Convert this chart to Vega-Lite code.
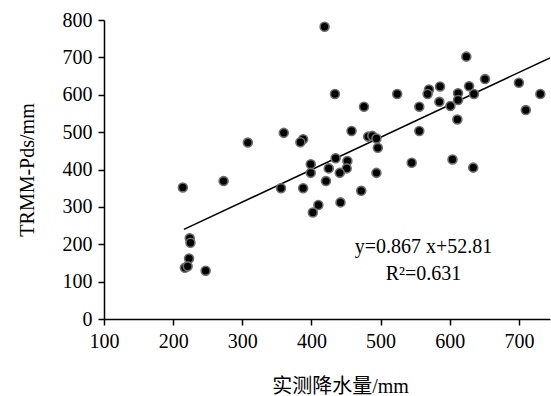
{
  "$schema": "https://vega.github.io/schema/vega-lite/v6.json",
  "width": 446,
  "height": 299,
  "autosize": {"type": "none"},
  "padding": {"left": 104, "top": 20, "right": 1, "bottom": 77},
  "background": "white",
  "config": {
    "view": {"stroke": null},
    "font": "Liberation Serif",
    "axis": {
      "grid": false,
      "domainColor": "black",
      "domainWidth": 1.5,
      "tickColor": "black",
      "tickWidth": 1.5,
      "tickSize": 6,
      "labelFont": "Liberation Serif",
      "labelFontSize": 20,
      "labelColor": "black",
      "titleFont": "Liberation Serif, Noto Sans CJK SC",
      "titleFontSize": 20,
      "titleFontWeight": "normal",
      "titleColor": "black"
    }
  },
  "datasets": {
    "pts": [
      {"obs": 419, "trmm": 782}, {"obs": 434, "trmm": 602}, {"obs": 476, "trmm": 568},
      {"obs": 360, "trmm": 498}, {"obs": 388, "trmm": 481}, {"obs": 384, "trmm": 473},
      {"obs": 308, "trmm": 472}, {"obs": 458, "trmm": 503}, {"obs": 482, "trmm": 488},
      {"obs": 273, "trmm": 369}, {"obs": 214, "trmm": 352}, {"obs": 435, "trmm": 430},
      {"obs": 399, "trmm": 414}, {"obs": 399, "trmm": 391}, {"obs": 425, "trmm": 403},
      {"obs": 452, "trmm": 423}, {"obs": 451, "trmm": 403}, {"obs": 441, "trmm": 391},
      {"obs": 421, "trmm": 369}, {"obs": 494, "trmm": 391}, {"obs": 356, "trmm": 350},
      {"obs": 388, "trmm": 350}, {"obs": 472, "trmm": 343}, {"obs": 410, "trmm": 305},
      {"obs": 402, "trmm": 285}, {"obs": 442, "trmm": 312}, {"obs": 224, "trmm": 216},
      {"obs": 225, "trmm": 204}, {"obs": 223, "trmm": 162}, {"obs": 217, "trmm": 137},
      {"obs": 221, "trmm": 141}, {"obs": 247, "trmm": 129},
      {"obs": 624, "trmm": 702}, {"obs": 651, "trmm": 642}, {"obs": 700, "trmm": 632},
      {"obs": 731, "trmm": 602}, {"obs": 710, "trmm": 559}, {"obs": 524, "trmm": 602},
      {"obs": 570, "trmm": 614}, {"obs": 568, "trmm": 602}, {"obs": 586, "trmm": 622},
      {"obs": 612, "trmm": 604}, {"obs": 628, "trmm": 623}, {"obs": 635, "trmm": 602},
      {"obs": 585, "trmm": 581}, {"obs": 612, "trmm": 586}, {"obs": 556, "trmm": 568},
      {"obs": 601, "trmm": 570}, {"obs": 611, "trmm": 534}, {"obs": 556, "trmm": 503},
      {"obs": 488, "trmm": 490}, {"obs": 494, "trmm": 483}, {"obs": 496, "trmm": 458},
      {"obs": 545, "trmm": 418}, {"obs": 604, "trmm": 427}, {"obs": 634, "trmm": 405}
    ],
    "fit": [
      {"obs": 215.6, "trmm": 239.7},
      {"obs": 745, "trmm": 698.7}
    ],
    "notes": [
      {"obs": 562, "trmm": 193, "label": "y=0.867 x+52.81"},
      {"obs": 562, "trmm": 120, "label": "R²=0.631"}
    ]
  },
  "encoding": {
    "x": {
      "field": "obs", "type": "quantitative",
      "scale": {"domain": [100, 745], "nice": false, "zero": false},
      "axis": {"values": [100, 200, 300, 400, 500, 600, 700], "title": "实测降水量/mm", "labelPadding": 6, "titleX": 236, "titleY": 73, "titleBaseline": "alphabetic", "labelFlush": false, "labelOverlap": false}
    },
    "y": {
      "field": "trmm", "type": "quantitative",
      "scale": {"domain": [0, 800], "nice": false},
      "axis": {"values": [0, 100, 200, 300, 400, 500, 600, 700, 800], "title": "TRMM-Pds/mm", "labelPadding": 6, "titlePadding": 25, "labelFlush": false, "labelOverlap": false}
    }
  },
  "layer": [
    {
      "data": {"name": "fit"},
      "mark": {"type": "line", "color": "black", "strokeWidth": 1.5, "clip": true}
    },
    {
      "data": {"name": "pts"},
      "mark": {"type": "point", "shape": "circle", "filled": true, "size": 80, "fill": "black", "fillOpacity": 1, "stroke": "#6e6e6e", "strokeWidth": 1.6, "strokeOpacity": 1}
    },
    {
      "data": {"name": "notes"},
      "mark": {"type": "text", "font": "Liberation Serif", "fontSize": 20, "align": "center", "baseline": "middle", "color": "black"},
      "encoding": {
        "text": {"field": "label"}
      }
    }
  ]
}
